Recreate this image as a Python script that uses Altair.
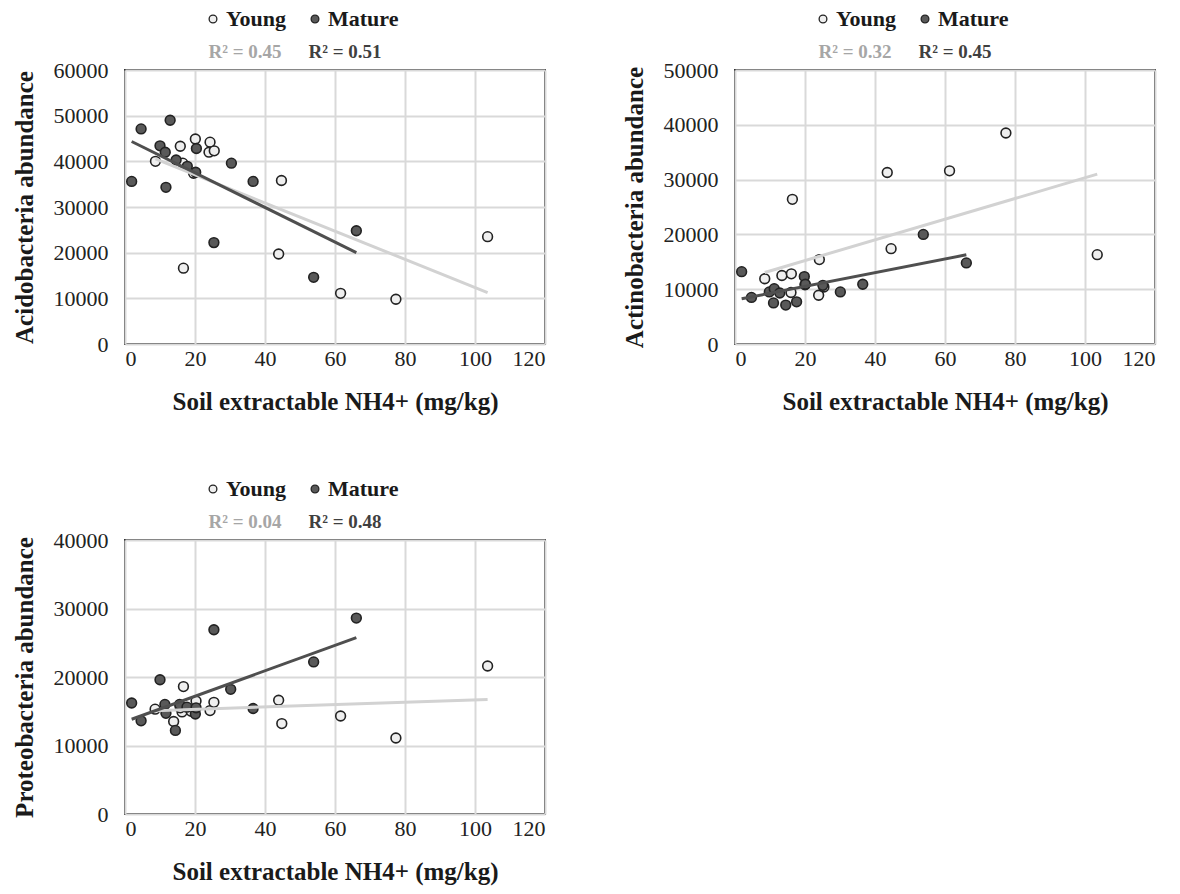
import altair as alt
import pandas as pd

# ---------------- data ----------------
groups = ["Young", "Mature"]
x_ticks = [0, 20, 40, 60, 80, 100, 120]
x_title = "Soil extractable NH4+ (mg/kg)"

# Panel 1: Acidobacteria
acido_young_x = [8.7, 15.8, 20.1, 24.3, 24.0, 25.5, 16.5, 19.6, 44.7, 16.7, 43.9, 61.6, 77.4, 103.6]
acido_young_y = [40000, 43300, 44900, 44200, 42000, 42300, 39600, 37400, 35800, 16600, 19700, 11100, 9800, 23500]
acido_mature_x = [1.9, 4.6, 10.0, 11.5, 11.7, 12.9, 14.6, 17.8, 20.2, 20.4, 25.4, 30.4, 36.6, 53.9, 66.1]
acido_mature_y = [35600, 47100, 43400, 42000, 34300, 49000, 40300, 38900, 37600, 42800, 22200, 39600, 35600, 14600, 24800]
acido_r2 = ["R² = 0.45", "R² = 0.51"]

# Panel 2: Actinobacteria
actino_young_x = [8.5, 13.4, 16.1, 16.4, 16.0, 24.1, 23.9, 43.5, 44.6, 61.3, 77.4, 103.5, 20.0, 25.4]
actino_young_y = [11900, 12500, 12800, 26400, 9400, 15400, 8900, 31300, 17400, 31600, 38500, 16300, 10800, 10400]
actino_mature_x = [1.9, 4.7, 9.8, 11.2, 11.0, 12.8, 14.5, 17.6, 19.8, 20.1, 25.1, 30.1, 36.5, 53.8, 66.1]
actino_mature_y = [13200, 8500, 9500, 10100, 7500, 9300, 7100, 7700, 12300, 10900, 10700, 9500, 10900, 20000, 14800]
actino_r2 = ["R² = 0.32", "R² = 0.45"]

# Panel 3: Proteobacteria
proteo_young_x = [8.6, 13.9, 16.7, 16.3, 20.3, 24.3, 25.4, 43.9, 44.8, 61.6, 77.4, 103.6, 18.9, 15.8]
proteo_young_y = [15300, 13500, 18600, 14900, 16500, 15100, 16300, 16600, 13200, 14300, 11100, 21600, 15000, 15500]
proteo_mature_x = [1.9, 4.6, 10.0, 11.4, 11.7, 14.4, 15.6, 17.7, 20.1, 20.3, 25.4, 30.2, 36.6, 53.9, 66.1]
proteo_mature_y = [16200, 13600, 19600, 16000, 14700, 12200, 16000, 15600, 14600, 15500, 26900, 18200, 15400, 22200, 28600]
proteo_r2 = ["R² = 0.04", "R² = 0.48"]

FONT = "Liberation Serif"
FILL_COLORS = ["#efefef", "#595959"]
LINE_COLORS = ["#d2d2d2", "#4f4f4f"]
R2_COLORS = ["#a6a6a6", "#3f3f3f"]

W, H = 420, 274


def make_df(yx, yy, mx, my):
    rows = [{"x": a, "y": b, "group": "Young"} for a, b in zip(yx, yy)]
    rows += [{"x": a, "y": b, "group": "Mature"} for a, b in zip(mx, my)]
    return pd.DataFrame(rows)


def panel(df, ymax, ytitle, r2):
    xs = alt.Scale(domain=[0, 120], nice=False)
    ys = alt.Scale(domain=[0, ymax], nice=False)
    y_ticks = list(range(0, ymax + 1, 10000))
    xenc = alt.X("x:Q", scale=xs,
                 axis=alt.Axis(title=x_title, values=x_ticks, format="d"))
    yenc = alt.Y("y:Q", scale=ys,
                 axis=alt.Axis(title=ytitle, values=y_ticks, format="d"))
    base = alt.Chart(df)
    points = base.mark_circle(size=95, stroke="#222222", strokeWidth=1.6, opacity=1).encode(
        x=xenc, y=yenc,
        fill=alt.Fill("group:N", scale=alt.Scale(domain=groups, range=FILL_COLORS),
                      legend=alt.Legend(orient="none", legendX=77, legendY=-62,
                                        direction="horizontal", title=None,
                                        labelFont=FONT, labelFontSize=22,
                                        labelFontWeight="bold", labelColor="#1a1a1a",
                                        symbolType="circle", symbolSize=60,
                                        symbolStrokeColor="#222222", symbolStrokeWidth=1.3,
                                        columnPadding=18, labelOffset=2)),
        order=alt.Order("ord:Q"),
    ).transform_calculate(ord="datum.group == 'Young' ? 0 : 1")
    young_line = base.transform_filter(alt.datum.group == "Young").transform_regression(
        "x", "y").mark_line(color=LINE_COLORS[0], strokeWidth=3).encode(x=xenc, y=yenc)
    mature_line = base.transform_filter(alt.datum.group == "Mature").transform_regression(
        "x", "y").mark_line(color=LINE_COLORS[1], strokeWidth=3).encode(x=xenc, y=yenc)
    t1 = alt.Chart(pd.DataFrame({"t": [r2[0]]})).mark_text(
        font=FONT, fontSize=19, fontWeight="bold", color=R2_COLORS[0], align="center",
        baseline="middle").encode(text="t:N", x=alt.value(120), y=alt.value(-18))
    t2 = alt.Chart(pd.DataFrame({"t": [r2[1]]})).mark_text(
        font=FONT, fontSize=19, fontWeight="bold", color=R2_COLORS[1], align="center",
        baseline="middle").encode(text="t:N", x=alt.value(220), y=alt.value(-18))
    return alt.layer(points, young_line, mature_line, t1, t2).properties(width=W, height=H)


p1 = panel(make_df(acido_young_x, acido_young_y, acido_mature_x, acido_mature_y),
           60000, "Acidobacteria  abundance", acido_r2)
p2 = panel(make_df(actino_young_x, actino_young_y, actino_mature_x, actino_mature_y),
           50000, "Actinobacteria  abundance", actino_r2)
p3 = panel(make_df(proteo_young_x, proteo_young_y, proteo_mature_x, proteo_mature_y),
           40000, "Proteobacteria  abundance", proteo_r2)

chart = alt.concat(p1, p2, p3, columns=2, spacing={"row": 62, "column": 74}).resolve_legend(
    fill="independent").configure_view(
    stroke="#333333", strokeWidth=2
).configure_axis(
    grid=True, gridColor="#d9d9d9", gridWidth=2, domain=False, ticks=False,
    labelFont=FONT, labelFontSize=22, labelColor="#222222",
    titleFont=FONT, titleFontSize=25, titleFontWeight="bold", titleColor="#1a1a1a",
).configure_axisX(labelPadding=4, titlePadding=20).configure_axisY(
    labelPadding=17, titlePadding=16).properties(
    padding={"left": 10, "top": 7, "right": 3, "bottom": 3}
)

chart.save("out.html", embed_options={"renderer": "svg", "actions": False})
